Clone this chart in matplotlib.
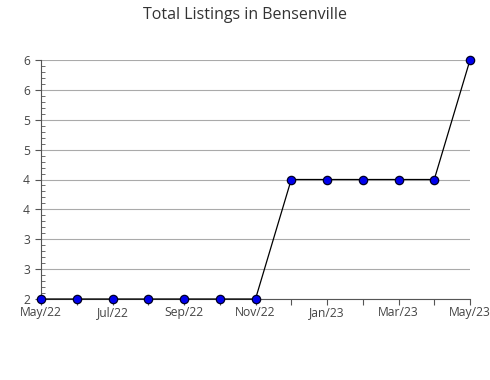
import matplotlib
matplotlib.use("Agg")
import matplotlib.pyplot as plt
from matplotlib.ticker import MultipleLocator, FuncFormatter
import math

months = ["May/22", "Jun/22", "Jul/22", "Aug/22", "Sep/22", "Oct/22", "Nov/22",
          "Dec/22", "Jan/23", "Feb/23", "Mar/23", "Apr/23", "May/23"]
listings = [2, 2, 2, 2, 2, 2, 2, 4, 4, 4, 4, 4, 6]
title = "Total Listings in Bensenville"

plt.rcParams["font.family"] = ["Open Sans", "DejaVu Sans"]

fig = plt.figure(figsize=(4.9, 3.8), dpi=100)
ax = fig.add_axes([41 / 490, (380 - 299) / 380, (470 - 41) / 490, (299 - 60) / 380])

x = list(range(len(months)))
ax.plot(x, listings, "-", color="black", linewidth=0.9,
        marker="o", markersize=6, markerfacecolor="#0000ee",
        markeredgecolor="#000022", markeredgewidth=0.9, zorder=3, clip_on=False)

ax.set_xlim(0, len(months) - 1)
ax.set_ylim(2, 6)
ax.set_xticks(x)
ax.set_xticklabels([m if i % 2 == 0 else "" for i, m in enumerate(months)])
ax.yaxis.set_major_locator(MultipleLocator(0.5))
ax.yaxis.set_minor_locator(MultipleLocator(0.1))
ax.yaxis.set_major_formatter(FuncFormatter(lambda v, p: str(int(math.floor(v + 0.5)))))

ax.grid(axis="y", color="#aaaaaa", linewidth=0.8)
ax.set_axisbelow(True)
for s in ["top", "right"]:
    ax.spines[s].set_visible(False)
for s in ["left", "bottom"]:
    ax.spines[s].set_color("#555555")
    ax.spines[s].set_linewidth(0.8)

ax.tick_params(axis="both", which="major", labelsize=8.7, labelcolor="#444444",
               color="#555555", length=4, width=0.8)
ax.tick_params(axis="y", which="minor", direction="in", length=3, color="#555555", width=0.6)
ax.tick_params(axis="x", pad=1)
ax.tick_params(axis="y", pad=4)

fig.suptitle(title, y=1 - 15 / 380, va="center", fontsize=11.5, color="#333333")

fig.savefig("out.png", dpi=100)
